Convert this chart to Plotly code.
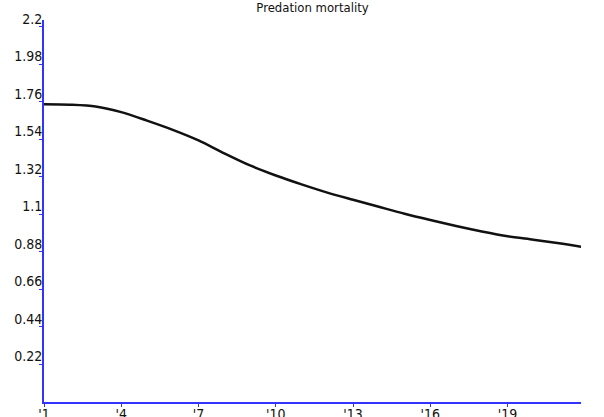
import plotly.graph_objects as go

years = list(range(1, 23))
mortality = [1.746, 1.743, 1.733, 1.700, 1.650, 1.596, 1.534, 1.458, 1.387, 1.328,
             1.276, 1.228, 1.186, 1.145, 1.104, 1.067, 1.032, 1.000, 0.972, 0.952,
             0.931, 0.907]

ytick_vals = [0.22, 0.44, 0.66, 0.88, 1.1, 1.32, 1.54, 1.76, 1.98, 2.2]
ytick_text = ["0.22", "0.44", "0.66", "0.88", "1.1", "1.32", "1.54", "1.76", "1.98", "2.2"]
xtick_vals = [1, 4, 7, 10, 13, 16, 19]
xtick_text = ["'1", "'4", "'7", "'10", "'13", "'16", "'19"]

fig = go.Figure()
fig.add_trace(go.Scatter(x=years, y=mortality, mode="lines",
                         line=dict(color="#111111", width=2.5, shape="spline", smoothing=0.8),
                         showlegend=False, hoverinfo="skip"))

axis_blue = "#3333ff"
fam = "Liberation Sans Narrow, Arial Narrow, DejaVu Sans Condensed, sans-serif"
font = dict(family=fam, size=14, color="#111111")

fig.update_layout(
    width=604, height=417,
    margin=dict(l=44, r=23, t=20, b=15, autoexpand=False),
    paper_bgcolor="white", plot_bgcolor="white",
    title=dict(text="Predation mortality", x=0.5, xref="paper", xanchor="center",
               y=1, yref="container", yanchor="top", pad=dict(t=3),
               font=dict(family=fam, size=13, color="#111111")),
    font=font,
    xaxis=dict(range=[1, 21.85], tickvals=xtick_vals, ticktext=xtick_text,
               showgrid=False, zeroline=False, showline=True, linecolor=axis_blue,
               linewidth=2, ticks="outside", ticklen=3, tickcolor=axis_blue,
               tickwidth=1, tickfont=font, ticklabelstandoff=-5, fixedrange=True),
    yaxis=dict(range=[0, 2.24], tickvals=ytick_vals, ticktext=ytick_text,
               showgrid=False, zeroline=False, showline=True, linecolor=axis_blue,
               linewidth=2, ticks="outside", ticklen=3, tickcolor=axis_blue,
               tickwidth=1, tickfont=font, ticklabelshift=-8, ticklabelstandoff=-6,
               fixedrange=True),
)

fig.write_html("out.html", config={"displayModeBar": False},
               post_script="document.body.style.margin='0';")
